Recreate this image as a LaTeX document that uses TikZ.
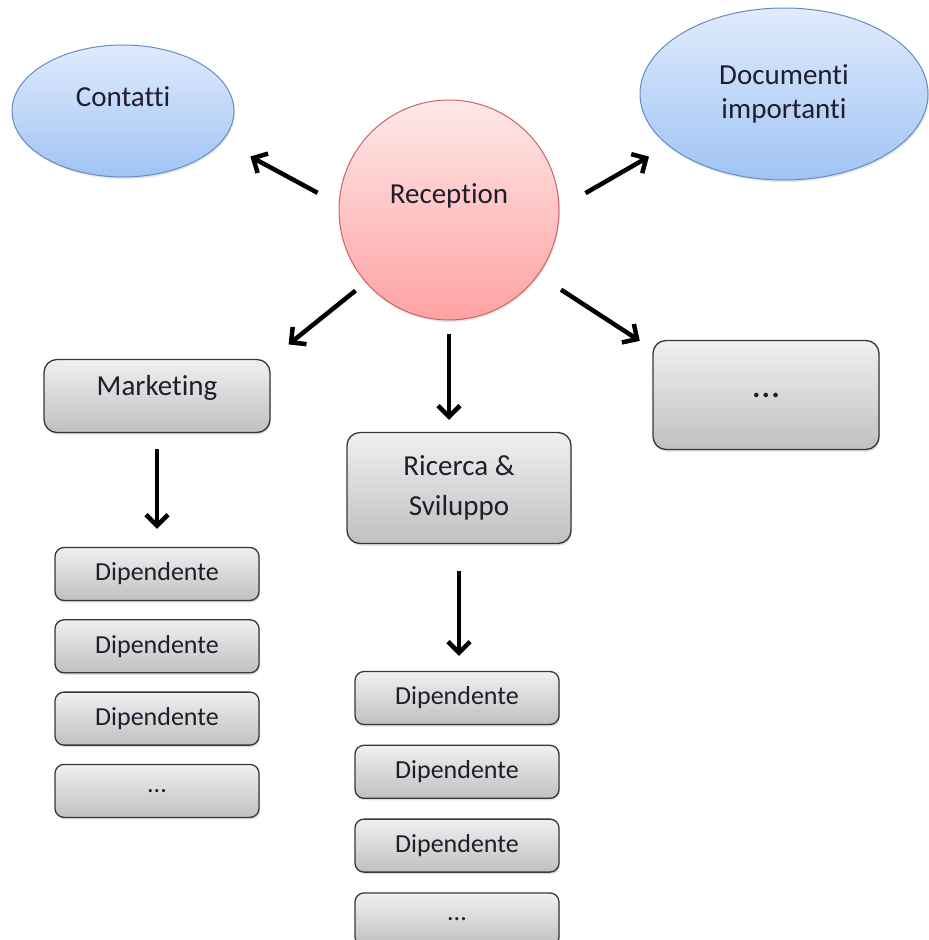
\documentclass[tikz,border=0pt]{standalone}
\usepackage{fontspec}
\setmainfont{Carlito}[Ligatures={NoCommon}]
\usetikzlibrary{positioning,arrows.meta,shapes,shadows}

\definecolor{blobtop}{RGB}{224,235,252}
\definecolor{blobbot}{RGB}{160,195,245}
\definecolor{blobline}{RGB}{100,140,200}
\definecolor{hubtop}{RGB}{255,232,232}
\definecolor{hubbot}{RGB}{255,162,162}
\definecolor{hubline}{RGB}{200,100,100}
\definecolor{boxtop}{RGB}{240,240,240}
\definecolor{boxbot}{RGB}{192,192,192}
\definecolor{boxline}{RGB}{55,55,55}
\definecolor{ink}{RGB}{30,30,45}

\newcommand{\labfont}{\fontsize{29}{34}\selectfont}
\newcommand{\stafffont}{\fontsize{26}{30}\selectfont}

\tikzset{
  blob/.style={ellipse, draw=blobline, line width=1pt, inner sep=0pt,
    top color=blobtop, bottom color=blobbot, align=center,
    drop shadow={shadow xshift=1pt, shadow yshift=-2pt, opacity=0.2}},
  hub/.style={circle, draw=hubline, line width=1pt, inner sep=0pt,
    top color=hubtop, bottom color=hubbot, minimum size=220pt,
    drop shadow={shadow xshift=1pt, shadow yshift=-2pt, opacity=0.2}},
  dept/.style={rectangle, rounded corners=13pt, draw=boxline, line width=1.3pt,
    top color=boxtop, bottom color=boxbot, align=center,
    drop shadow={shadow xshift=1pt, shadow yshift=-2pt, opacity=0.25}},
  staff/.style={dept, rounded corners=9pt, minimum width=204pt,
    minimum height=53pt, font=\stafffont},
  link/.style={line width=4.5pt, -{Straight Barb[length=11pt,width=22pt]}}
}

\begin{document}
\begin{tikzpicture}[x=1pt, y=-1pt, font=\labfont, text=ink, node distance=18pt]
  \useasboundingbox (0,0) rectangle (929,940);

  \node[hub, label={[yshift=14pt]center:Reception}] (rec) at (449,210) {};
  \node[blob, minimum width=222pt, minimum height=132pt,
        label={[yshift=14pt]center:Contatti}] (cont) at (123,111) {};
  \node[blob, minimum width=288pt, minimum height=172pt] (docs) at (784,94)
        {Documenti\\importanti};

  \node[dept, minimum width=226pt, minimum height=73pt,
        label={[yshift=8pt]center:Marketing}] (mkt) at (157,396) {};
  \node[dept, minimum width=224pt, minimum height=111pt,
        font=\fontsize{29}{40}\selectfont] (rs) at (459,488) {Ricerca \&\\Sviluppo};
  \node[dept, minimum width=226pt, minimum height=109pt,
        font=\fontsize{38}{40}\selectfont] (more) at (766,395) {...};

  % dipendenti marketing
  \node[staff] (dl1) at (157,574) {Dipendente};
  \node[staff, below=of dl1] (dl2) {Dipendente};
  \node[staff, below=of dl2] (dl3) {Dipendente};
  \node[staff, below=of dl3] (dl4) {...};

  % dipendenti ricerca
  \node[staff] (dm1) at (457,698) {Dipendente};
  \node[staff, below=19.5pt of dm1] (dm2) {Dipendente};
  \node[staff, below=19.5pt of dm2] (dm3) {Dipendente};
  \node[staff, below=19.5pt of dm3] (dm4) {...};

  \draw[link, shorten <=24pt, shorten >=32pt] (rec.177) -- (cont.-17);
  \draw[link, shorten <=30pt, shorten >=22pt] (rec.1) -- (docs.204);
  \draw[link, shorten <=13pt, shorten >=23pt] (rec.221) -- (mkt.north east);
  \draw[link, shorten <=27pt, shorten >=15pt] (rec.-36) -- (more.158);
  \draw[link, shorten <=13pt, shorten >=12pt] (rec.south) -- (rec.south |- rs.north);
  \draw[link, shorten <=16pt, shorten >=18pt] (mkt.south) -- (dl1.north);
  \draw[link, shorten <=27pt, shorten >=15pt] (rs.south) -- (rs.south |- dm1.north);
\end{tikzpicture}
\end{document}
